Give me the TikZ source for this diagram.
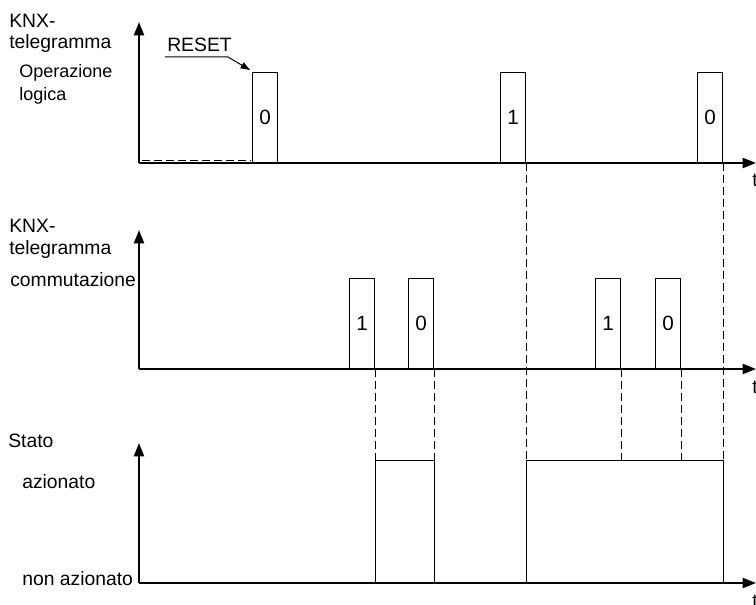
\documentclass[tikz,border=0pt]{standalone}
\usepackage{fontspec}
\setmainfont{Liberation Sans}
\usetikzlibrary{arrows.meta}

\begin{document}
\begin{tikzpicture}[x=0.75pt,y=-0.75pt,inner sep=0pt,
				font=\fontsize{14.5}{17}\selectfont,
				axis/.style={line width=1.5pt,-{Triangle[length=10pt,width=7.5pt]}},
				pulse/.style={draw,line width=0.75pt,minimum width=18.75pt,minimum height=67.5pt,anchor=south west,font=\fontsize{15.5}{18}\selectfont},
				guide/.style={line width=0.75pt,dash pattern=on 6pt off 3pt},
				trace/.style={line width=0.75pt},
				lbl/.style={anchor=base west},
				small/.style={font=\fontsize{13.5}{16}\selectfont}]
				
				\useasboundingbox (0,0) rectangle (756,605);
				
				\coordinate (hi) at (0,460);
				\coordinate (lo) at (0,583);
				
				\foreach \g/\b/\top in {a/163/22, b/369/230, c/583/443}{
					\coordinate (\g0) at (139,\b);
					\coordinate (\g y) at (139,\top);
					\coordinate (\g x) at (756,\b);
					\draw[axis] (\g0) -- (\g y);
					\draw[axis] (\g0) -- (\g x);
					\node[lbl] (t\g) at (752,\b+24) {t};
				};
				
				\foreach \p/\x/\b/\v in {op1/252/163/0, op2/500/163/1, op3/697/163/0,
					sw1/349/369/1, sw2/408/369/0, sw3/595/369/1, sw4/655/369/0}{
					\node[pulse] (\p) at (\x,\b) {\v};
				};
				
				\draw[guide] ([shift={(3,-2)}]a0) -- ([shift={(-1,-2)}]op1.south west);
				
				\node[lbl] (reset) at (167,52) {RESET};
				\coordinate (r1) at ([shift={(-2,5)}]reset.base west);
				\coordinate (r2) at ([shift={(61,5)}]reset.base west);
				\draw[line width=0.75pt,-{Triangle[length=7pt,width=5pt]}] (r1) -- (r2) -- ([shift={(-2,-2)}]op1.north west);
				
				\foreach \p in {op2,op3,sw1,sw2,sw3,sw4}{
					\draw[guide] (\p.south east) -- (\p.south east |- hi);
				};
				
				\draw[trace] (sw1.south east |- lo) -- (sw1.south east |- hi) -- (sw2.south east |- hi) -- (sw2.south east |- lo);
				\draw[trace] (op2.south east |- lo) -- (op2.south east |- hi) -- (op3.south east |- hi) -- (op3.south east |- lo);
				
				\node[lbl] (knx1) at (9,28) {KNX-};
				\node[lbl] (tel1) at (9,49) {telegramma};
				\node[lbl,small] (oper) at (19,78) {Operazione};
				\node[lbl,small] (logica) at (19,101) {logica};
				
				\node[lbl] (knx2) at (9,233) {KNX-};
				\node[lbl] (tel2) at (9,255) {telegramma};
				\node[lbl] (comm) at (10,287) {commutazione};
				
				\node[lbl] (stato) at (8,447) {Stato};
				\node[lbl] (azion) at (22,488) {azionato};
				\node[lbl] (nonaz) at (22,585) {non azionato};
				
			\end{tikzpicture}
\end{document}
